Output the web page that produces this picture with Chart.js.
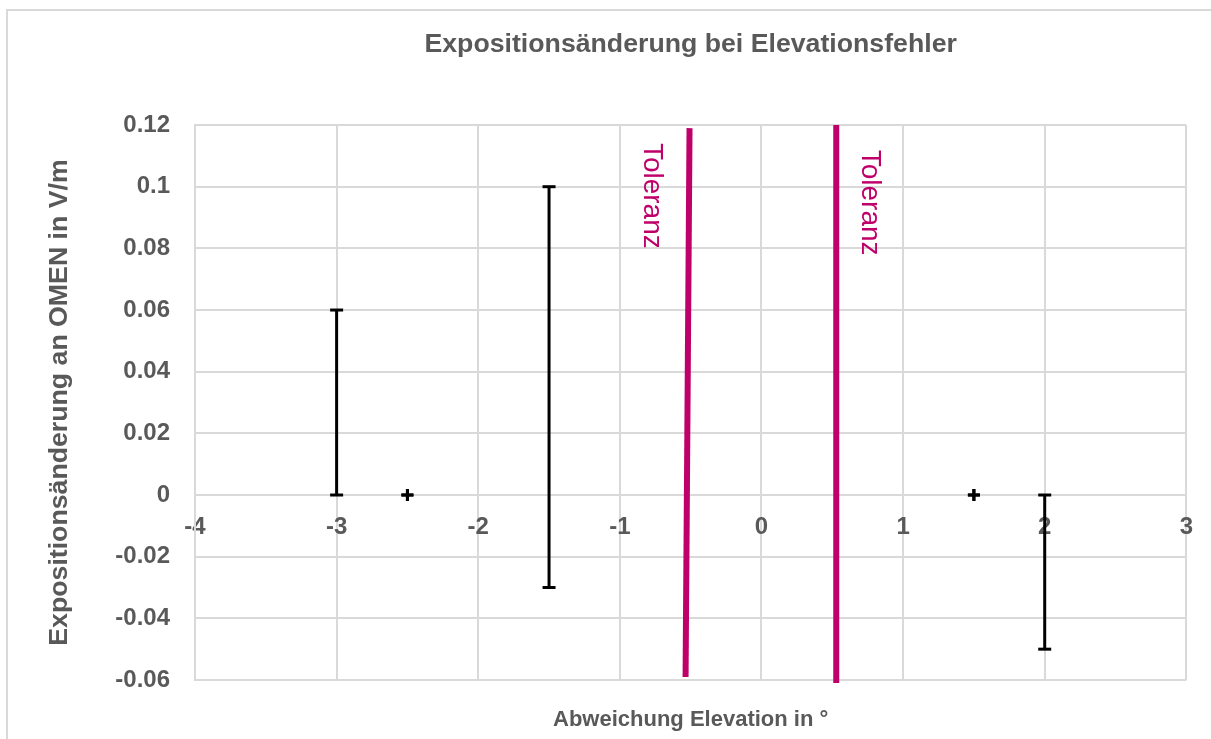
<!DOCTYPE html>
<html>
<head>
    <title>Expositionsänderung bei Elevationsfehler</title>
    <script src="https://cdn.jsdelivr.net/npm/chart.js"></script>
    <style>
        body { margin: 0; background: white; overflow: hidden; }
        .frame { position: absolute; left: 6px; top: 9px; width: 1300px; height: 800px; border: 2px solid #d9d9d9; }
        #chart { position: absolute; left: 0; top: 0; }
    </style>
</head>
<body>
    <div class="frame"></div>
    <canvas id="chart" width="1211" height="739"></canvas>

    <script>
        // error bars: x position, lower and upper end (equal ends -> drawn as "+")
        const errX = [-3, -2.5, -1.5, 1.5, 2];
        const errLow = [0, 0, -0.03, 0, -0.05];
        const errHigh = [0.06, 0, 0.1, 0, 0];

        // tolerance lines (start / end)
        const tolLeftX = [-0.536, -0.508];
        const tolLeftY = [-0.059, 0.119];
        const tolRightX = [0.528, 0.528];
        const tolRightY = [-0.061, 0.12];
        const tolLabel = 'Toleranz';
        const tolLabelX = [-0.775, 0.762];
        const tolLabelY = [0.1142, 0.112];

        const xTicks = [-4, -3, -2, -1, 0, 1, 2, 3];
        const yTicks = [-0.06, -0.04, -0.02, 0, 0.02, 0.04, 0.06, 0.08, 0.1, 0.12];

        const gray = '#595959';
        const grid = '#d9d9d9';
        const magenta = '#C0006A';
        const fontFamily = "'Liberation Sans', Arial, sans-serif";

        const datasets = errX.map((x, i) => {
            const flat = errLow[i] === errHigh[i];
            return {
                data: [{ x: x, y: errLow[i] }, { x: x, y: errHigh[i] }],
                showLine: true,
                borderColor: '#000',
                borderWidth: 3,
                pointStyle: flat ? 'cross' : 'line',
                pointRadius: flat ? 6 : 6.5,
                pointBorderWidth: 3,
                pointBorderColor: '#000',
                clip: false
            };
        });
        [[tolLeftX, tolLeftY], [tolRightX, tolRightY]].forEach(([xs, ys]) => {
            datasets.push({
                data: xs.map((x, i) => ({ x: x, y: ys[i] })),
                showLine: true,
                borderColor: magenta,
                borderWidth: 6,
                pointRadius: 0,
                clip: false
            });
        });

        const tolLabels = {
            id: 'tolLabels',
            afterDatasetsDraw(chart) {
                const { ctx, scales } = chart;
                ctx.save();
                ctx.fillStyle = magenta;
                ctx.font = '28px ' + fontFamily;
                ctx.textAlign = 'left';
                ctx.textBaseline = 'middle';
                tolLabelX.forEach((x, i) => {
                    ctx.save();
                    ctx.translate(scales.x.getPixelForValue(x), scales.y.getPixelForValue(tolLabelY[i]));
                    ctx.rotate(Math.PI / 2);
                    ctx.fillText(tolLabel, 0, 0);
                    ctx.restore();
                });
                ctx.restore();
            }
        };

        // helper axis that only carries a title
        const titleAxis = (position, text, size, padding) => ({
            type: 'linear',
            position: position,
            display: true,
            min: -4, max: 3,
            grid: { display: false, drawTicks: false },
            border: { display: false },
            ticks: { display: false },
            title: {
                display: true,
                text: text,
                color: gray,
                font: { family: fontFamily, size: size, weight: 'bold' },
                padding: padding
            }
        });

        new Chart(document.getElementById('chart'), {
            type: 'scatter',
            data: { datasets: datasets },
            plugins: [tolLabels],
            options: {
                responsive: false,
                animation: false,
                devicePixelRatio: 1,
                layout: { padding: { left: 40, right: 23, top: 10, bottom: 2 } },
                plugins: {
                    legend: { display: false },
                    tooltip: { enabled: false }
                },
                scales: {
                    x: {
                        type: 'linear',
                        position: { y: 0 },
                        min: -4, max: 3,
                        afterBuildTicks: s => { s.ticks = xTicks.map(v => ({ value: v })); },
                        grid: { color: grid, lineWidth: 2, drawTicks: false },
                        border: { color: grid, width: 2 },
                        ticks: {
                            color: gray, padding: 18,
                            font: { family: fontFamily, size: 24, weight: 'bold' }
                        }
                    },
                    xTitle: titleAxis('bottom', 'Abweichung Elevation in °', 22, { top: 26.8, bottom: 3.8 }),
                    chartTitle: titleAxis('top', 'Expositionsänderung bei Elevationsfehler', 26.7, { top: 19, bottom: 64 }),
                    y: {
                        type: 'linear',
                        min: -0.06, max: 0.12,
                        afterBuildTicks: s => { s.ticks = yTicks.map(v => ({ value: v })); },
                        afterFit: s => { s.width = 155; },
                        grid: { color: grid, lineWidth: 2, drawTicks: false },
                        border: { color: grid, width: 2 },
                        ticks: {
                            color: gray, padding: 25,
                            font: { family: fontFamily, size: 24, weight: 'bold' },
                            callback: v => String(Math.round(v * 100) / 100)
                        },
                        title: {
                            display: true,
                            text: 'Expositionsänderung an OMEN in V/m',
                            color: gray,
                            font: { family: fontFamily, size: 26.7, weight: 'bold' },
                            padding: { top: 4, bottom: 0 }
                        }
                    }
                }
            }
        });
    </script>
</body>
</html>
